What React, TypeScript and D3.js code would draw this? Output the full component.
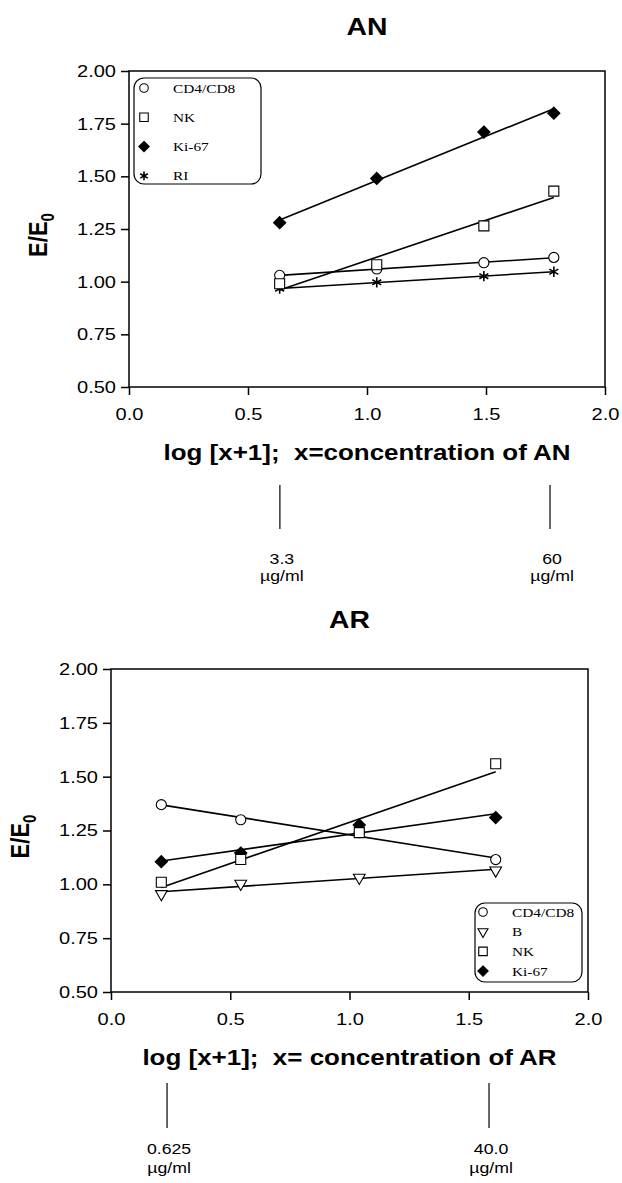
import React, { useEffect, useRef } from "react";
import * as d3 from "d3";

// values (x = log[x+1], y = E/E0)
const anDoses = [0.633, 1.041, 1.491, 1.785];
const anCd4Cd8 = [1.03, 1.06, 1.09, 1.115];
const anNK = [0.99, 1.08, 1.265, 1.43];
const anKi67 = [1.28, 1.49, 1.71, 1.8];
const anRI = [0.967, 0.997, 1.026, 1.047];

const arDoses = [0.211, 0.544, 1.041, 1.613];
const arCd4Cd8 = [1.37, 1.3, 1.24, 1.115];
const arB = [0.955, 1.003, 1.031, 1.065];
const arNK = [1.01, 1.115, 1.24, 1.56];
const arKi67 = [1.105, 1.145, 1.275, 1.31];

const xTicks = [0, 0.5, 1.0, 1.5, 2.0];
const yTicks = [0.5, 0.75, 1.0, 1.25, 1.5, 1.75, 2.0];

const anMarks = [0.634, 1.769];
const anMarkLabels = ["3.3", "60"];
const arMarks = [0.235, 1.585];
const arMarkLabels = ["0.625", "40.0"];

const SX = 1.18; // the source figure is stretched horizontally
const SANS = "'Liberation Sans', Arial, Helvetica, sans-serif";
const SERIF = "'Liberation Serif', 'Times New Roman', serif";

const symbols: any = {
    circle: { type: d3.symbolCircle, size: 80, fill: "#fff", rot: 0, sw: 1.1 },
    square: { type: d3.symbolSquare, size: 100, fill: "#fff", rot: 0, sw: 1.1 },
    diamond: { type: d3.symbolDiamond2, size: 95, fill: "#000", rot: 0, sw: 1.1 },
    star: { type: d3.symbolAsterisk, size: 75, fill: "none", rot: 0, sw: 1.6 },
    triangle: { type: d3.symbolTriangle, size: 60, fill: "#fff", rot: 180, sw: 1.1 },
};

const panels = [
    {
        title: "AN",
        xTitle: "log [x+1];\u00a0 x=concentration of AN",
        doses: anDoses,
        // draw order: later ones sit on top
        series: [
            { name: "RI", values: anRI, symbol: "star" },
            { name: "Ki-67", values: anKi67, symbol: "diamond" },
            { name: "CD4/CD8", values: anCd4Cd8, symbol: "circle" },
            { name: "NK", values: anNK, symbol: "square" },
        ],
        legendOrder: ["CD4/CD8", "NK", "Ki-67", "RI"],
        marks: anMarks,
        markLabels: anMarkLabels,
        box: { left: 129, top: 71, width: 476, height: 316 },
        titleY: 35,
        xTitleY: 460,
        legend: { x: 134, y: 78, w: 127, h: 106, row0: 88, rowGap: 29.3, symX: 144, textX: 173 },
        markY: [485, 529, 564, 581],
    },
    {
        title: "AR",
        xTitle: "log [x+1];\u00a0 x= concentration of AR",
        doses: arDoses,
        series: [
            { name: "Ki-67", values: arKi67, symbol: "diamond" },
            { name: "CD4/CD8", values: arCd4Cd8, symbol: "circle" },
            { name: "B", values: arB, symbol: "triangle" },
            { name: "NK", values: arNK, symbol: "square" },
        ],
        legendOrder: ["CD4/CD8", "B", "NK", "Ki-67"],
        marks: arMarks,
        markLabels: arMarkLabels,
        box: { left: 111, top: 669, width: 477, height: 323 },
        titleY: 628,
        xTitleY: 1065,
        legend: { x: 475, y: 903, w: 107, h: 79, row0: 912, rowGap: 19.7, symX: 483, textX: 512 },
        markY: [1083, 1128, 1154, 1173],
    },
];

const text = (g, x, y, str, size, opts: any = {}) =>
    g.append("text")
        .attr("transform", `translate(${x},${y}) scale(${SX},1)${opts.rotate ? " rotate(-90)" : ""}`)
        .attr("text-anchor", opts.anchor || "middle")
        .attr("font-family", opts.family || SANS)
        .attr("font-weight", opts.bold ? "bold" : "normal")
        .attr("font-size", size)
        .attr("fill", "#000")
        .text(str);

const drawSymbol = (g, kind, cx, cy, scale = 1) => {
    const s = symbols[kind];
    g.append("path")
        .attr("d", d3.symbol().type(s.type).size(s.size * scale * scale)())
        .attr("transform", `translate(${cx},${cy}) rotate(${s.rot})`)
        .attr("fill", s.fill)
        .attr("stroke", "#000")
        .attr("stroke-width", s.sw);
};

const Panel = ({ cfg }) => {
    const ref = useRef<SVGGElement>(null);

    useEffect(() => {
        const g = d3.select(ref.current);
        g.selectAll("*").remove();
        const { left, top, width, height } = cfg.box;

        const x = d3.scaleLinear().domain([0, 2]).range([left, left + width]);
        const y = d3.scaleLinear().domain([0.5, 2]).range([top + height, top]);

        // frame
        g.append("rect")
            .attr("x", left).attr("y", top)
            .attr("width", width).attr("height", height)
            .attr("fill", "none").attr("stroke", "#000").attr("stroke-width", 1.5);

        const yAxis = g.append("g")
            .attr("transform", `translate(${left},0)`)
            .call(d3.axisLeft(y).tickValues(yTicks).tickSize(8).tickPadding(3).tickFormat(d3.format(".2f")));
        const xAxis = g.append("g")
            .attr("transform", `translate(0,${top + height})`)
            .call(d3.axisBottom(x).tickValues(xTicks).tickSize(8).tickPadding(13).tickFormat(d3.format(".1f")));

        [yAxis, xAxis].forEach(a => {
            a.select(".domain").remove();
            a.selectAll(".tick line").attr("stroke", "#000").attr("stroke-width", 1.5);
            a.selectAll(".tick text")
                .attr("fill", "#000")
                .attr("font-family", SANS)
                .attr("font-size", 17)
                .attr("transform", `scale(${SX},1)`);
        });

        // titles
        const cx = left + width / 2;
        text(g, cx, cfg.titleY, cfg.title, 24, { bold: true });
        text(g, cx, cfg.xTitleY, cfg.xTitle, 22, { bold: true });
        const yt = text(g, left - 82, top + height / 2 + 6, "E/E", 22, { bold: true, rotate: true });
        yt.append("tspan").attr("font-size", 15).attr("dy", 6).text("0");

        // fitted lines (least squares per series)
        cfg.series.forEach(s => {
            const xs = cfg.doses, ys = s.values;
            const mx = d3.mean(xs), my = d3.mean(ys);
            const slope = d3.sum(xs, (d, i) => (d - mx) * (ys[i] - my)) / d3.sum(xs, d => (d - mx) ** 2);
            const x0 = xs[0], x1 = xs[xs.length - 1];
            g.append("line")
                .attr("x1", x(x0)).attr("y1", y(my + slope * (x0 - mx)))
                .attr("x2", x(x1)).attr("y2", y(my + slope * (x1 - mx)))
                .attr("stroke", "#000").attr("stroke-width", 1.6);
        });

        // points
        cfg.series.forEach(s => {
            s.values.forEach((v, i) => drawSymbol(g, s.symbol, x(cfg.doses[i]), y(v)));
        });

        // legend
        const L = cfg.legend;
        g.append("rect")
            .attr("x", L.x).attr("y", L.y).attr("width", L.w).attr("height", L.h)
            .attr("rx", 10).attr("ry", 10)
            .attr("fill", "#fff").attr("stroke", "#000").attr("stroke-width", 1.2);
        cfg.legendOrder.forEach((name, i) => {
            const s = cfg.series.find(d => d.name === name);
            const ry = L.row0 + i * L.rowGap;
            drawSymbol(g, s.symbol, L.symX, ry, 0.85);
            text(g, L.textX, ry + 4.5, name, 13, { anchor: "start", family: SERIF });
        });

        // concentration markers under the axis
        const [ly0, ly1, ny, uy] = cfg.markY;
        cfg.marks.forEach((m, i) => {
            const mxp = x(m);
            g.append("line")
                .attr("x1", mxp).attr("x2", mxp).attr("y1", ly0).attr("y2", ly1)
                .attr("stroke", "#000").attr("stroke-width", 1.2);
            text(g, mxp + 2, ny, cfg.markLabels[i], 15);
            text(g, mxp + 2, uy, "\u00b5g/ml", 15);
        });
    }, [cfg]);

    return <g ref={ref} />;
};

export default function App() {
    return (
        <svg
            width={622}
            height={1183}
            style={{ position: "absolute", left: 0, top: 0, background: "#fff" }}
        >
            {panels.map(p => <Panel key={p.title} cfg={p} />)}
        </svg>
    );
}
